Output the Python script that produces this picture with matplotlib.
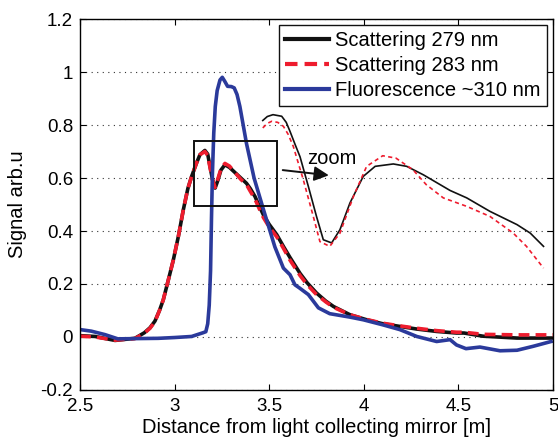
import matplotlib
matplotlib.use('Agg')
import matplotlib.pyplot as plt
from matplotlib.patches import Rectangle

plt.rcParams['font.family'] = ['Liberation Sans', 'DejaVu Sans']

# main curves
x_scat = [2.50, 2.58, 2.685, 2.79, 2.84, 2.87, 2.896, 2.92, 2.94, 2.965, 2.993, 3.02, 3.046,
          3.07, 3.09, 3.115, 3.134, 3.16, 3.175, 3.187, 3.20, 3.214, 3.228, 3.245, 3.266,
          3.29, 3.32, 3.35, 3.38, 3.40, 3.425, 3.45, 3.47, 3.50, 3.54, 3.575, 3.61, 3.663,
          3.70, 3.75, 3.80, 3.84, 3.927, 4.015, 4.10, 4.19, 4.28, 4.385, 4.49, 4.53, 4.63,
          4.81, 5.0]
y_279 = [0.005, 0.002, -0.013, -0.005, 0.016, 0.035, 0.06, 0.10, 0.14, 0.21, 0.29, 0.38, 0.48,
         0.56, 0.606, 0.655, 0.688, 0.704, 0.69, 0.644, 0.595, 0.562, 0.59, 0.63, 0.65,
         0.64, 0.62, 0.60, 0.58, 0.56, 0.53, 0.49, 0.46, 0.425, 0.386, 0.342, 0.30, 0.24,
         0.205, 0.166, 0.135, 0.115, 0.084, 0.065, 0.05, 0.04, 0.03, 0.021, 0.015, 0.015, 0.003,
         -0.004, -0.004]
y_283 = [0.003, 0.0, -0.012, -0.006, 0.014, 0.033, 0.058, 0.10, 0.14, 0.21, 0.29, 0.38, 0.48,
         0.56, 0.606, 0.655, 0.688, 0.70, 0.685, 0.64, 0.595, 0.565, 0.595, 0.635, 0.655,
         0.645, 0.62, 0.595, 0.575, 0.55, 0.52, 0.48, 0.45, 0.415, 0.378, 0.335, 0.29, 0.232,
         0.198, 0.16, 0.132, 0.112, 0.084, 0.066, 0.052, 0.042, 0.033, 0.024, 0.018, 0.018, 0.01,
         0.008, 0.008]

x_fl = [2.50, 2.56, 2.632, 2.70, 2.80, 2.914, 3.00, 3.09, 3.15, 3.165, 3.175, 3.183, 3.19,
        3.195, 3.20, 3.207, 3.215, 3.225, 3.24, 3.252, 3.265, 3.28, 3.30, 3.315, 3.33, 3.345,
        3.36, 3.38, 3.42, 3.47, 3.53, 3.575, 3.61, 3.636, 3.66, 3.707, 3.76, 3.82, 3.927,
        3.997, 4.10, 4.19, 4.28, 4.385, 4.456, 4.49, 4.54, 4.614, 4.72, 4.81, 4.896, 4.99]
y_fl = [0.028, 0.022, 0.009, -0.007, -0.006, -0.005, -0.002, 0.002, 0.016, 0.02, 0.05, 0.12, 0.25,
        0.45, 0.62, 0.77, 0.87, 0.93, 0.97, 0.98, 0.965, 0.946, 0.945, 0.94, 0.915, 0.87,
        0.81, 0.73, 0.60, 0.48, 0.34, 0.26, 0.235, 0.197, 0.185, 0.16, 0.11, 0.088, 0.075,
        0.065, 0.046, 0.028, 0.002, -0.017, -0.01, -0.03, -0.044, -0.038, -0.052, -0.05, -0.035,
        -0.017]

# zoomed copies drawn inside the plot
x_zoom_279 = [3.466, 3.49, 3.52, 3.566, 3.59, 3.61, 3.635, 3.663, 3.707, 3.75, 3.786, 3.83,
              3.874, 3.927, 3.997, 4.06, 4.156, 4.227, 4.315, 4.456, 4.544, 4.667, 4.81,
              4.88, 4.95]
y_zoom_279 = [0.817, 0.832, 0.839, 0.833, 0.81, 0.776, 0.73, 0.68, 0.568, 0.455, 0.367, 0.355,
              0.405, 0.506, 0.606, 0.644, 0.653, 0.644, 0.612, 0.553, 0.525, 0.474, 0.424,
              0.392, 0.342]
x_zoom_283 = [3.466, 3.49, 3.513, 3.545, 3.575, 3.60, 3.627, 3.68, 3.733, 3.768, 3.82, 3.874,
              3.945, 4.015, 4.10, 4.17, 4.26, 4.33, 4.42, 4.544, 4.667, 4.79, 4.86, 4.95]
y_zoom_283 = [0.789, 0.806, 0.814, 0.81, 0.795, 0.765, 0.72, 0.594, 0.455, 0.36, 0.342, 0.392,
              0.53, 0.644, 0.684, 0.675, 0.631, 0.575, 0.525, 0.493, 0.455, 0.392, 0.342, 0.26]

fig = plt.figure(figsize=(5.58, 4.38), dpi=100)
ax = fig.add_axes([0.1434, 0.1096, 0.8476, 0.847])

black = '#111111'
red = '#ee1c2e'
blue = '#2b3a9b'

ax.plot(x_scat, y_279, color=black, lw=2.6, label='Scattering 279 nm')
ax.plot(x_scat, y_283, color=red, lw=2.6, dashes=(3, 1.7), label='Scattering 283 nm')
ax.plot(x_fl, y_fl, color=blue, lw=2.6, label='Fluorescence ~310 nm')

ax.plot(x_zoom_279, y_zoom_279, color=black, lw=1.2)
ax.plot(x_zoom_283, y_zoom_283, color=red, lw=1.2, dashes=(2.5, 2))

ax.add_patch(Rectangle((3.10, 0.495), 0.44, 0.245, fill=False, ec=black, lw=1.4, zorder=4))
ax.annotate('', xy=(3.83, 0.609), xytext=(3.557, 0.631),
            arrowprops=dict(arrowstyle='-|>', color=black, lw=1.4, mutation_scale=22))
ax.text(3.83, 0.672, 'zoom', fontsize=14.5, ha='center', va='center')

ax.set_xlim(2.5, 5)
ax.set_ylim(-0.2, 1.2)
ax.set_xticks([2.5, 3, 3.5, 4, 4.5, 5])
ax.set_xticklabels(['2.5', '3', '3.5', '4', '4.5', '5'])
ax.set_yticks([-0.2, 0, 0.2, 0.4, 0.6, 0.8, 1, 1.2])
ax.set_yticklabels(['-0.2', '0', '0.2', '0.4', '0.6', '0.8', '1', '1.2'])
ax.tick_params(direction='in', top=True, right=True, length=4, labelsize=13.5)
ax.tick_params(axis='x', pad=6)
ax.tick_params(axis='y', pad=5)
ax.yaxis.grid(True, color='#333333', lw=0.8, dashes=(1, 4))
ax.set_axisbelow(True)
for s in ax.spines.values():
    s.set_linewidth(1.0)

ax.set_xlabel('Distance from light collecting mirror [m]', fontsize=14.5, labelpad=2)
ax.set_ylabel('Signal arb.u', fontsize=14.5, labelpad=10)

leg = ax.legend(loc='upper right', fontsize=14.5, frameon=True, fancybox=False,
                borderaxespad=0.3, handlelength=2.2, handletextpad=0.3,
                labelspacing=0.3, borderpad=0.3)
leg.get_frame().set_edgecolor(black)
leg.get_frame().set_linewidth(1.0)
leg.get_frame().set_alpha(1)
for h in leg.get_lines():
    h.set_linewidth(3)

fig.savefig('out.png', dpi=100)
